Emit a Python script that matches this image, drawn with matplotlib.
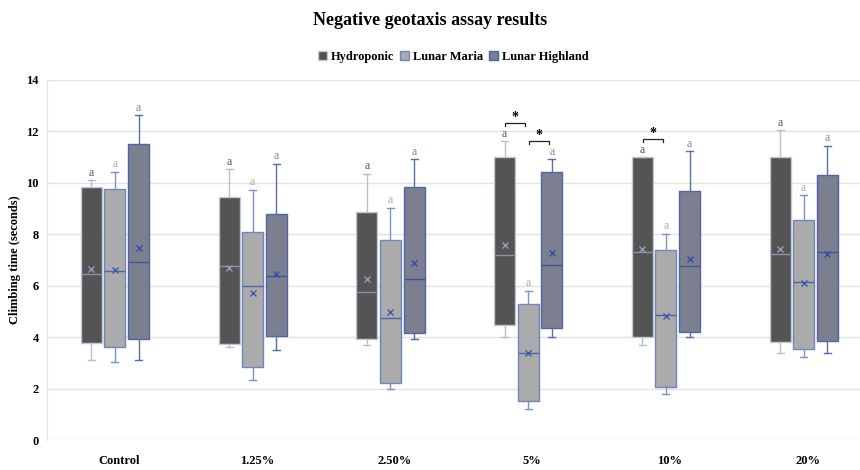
import numpy as np
import matplotlib
matplotlib.use("Agg")
import matplotlib.pyplot as plt
from matplotlib.patches import Patch

plt.rcParams['font.family'] = ['Liberation Serif', 'DejaVu Serif']

categories = ['Control', '1.25%', '2.50%', '5%', '10%', '20%']
series = ['Hydroponic', 'Lunar Maria', 'Lunar Highland']

# five-number summaries, plus the mean (x marker)
hydro_lo = [3.11, 3.62, 3.71, 4.02, 3.68, 3.40]
hydro_q1 = [3.79, 3.73, 3.93, 4.46, 4.02, 3.81]
hydro_med = [6.47, 6.77, 5.76, 7.19, 7.30, 7.22]
hydro_q3 = [9.82, 9.46, 8.88, 11.00, 11.00, 11.02]
hydro_hi = [10.10, 10.53, 10.35, 11.62, 11.00, 12.04]
hydro_mean = [6.65, 6.68, 6.25, 7.59, 7.42, 7.44]

maria_lo = [3.02, 2.32, 2.00, 1.21, 1.80, 3.22]
maria_q1 = [3.63, 2.84, 2.23, 1.50, 2.05, 3.53]
maria_med = [6.56, 5.97, 4.76, 3.37, 4.86, 6.16]
maria_q3 = [9.76, 8.08, 7.76, 5.28, 7.39, 8.56]
maria_hi = [10.44, 9.73, 9.04, 5.81, 8.02, 9.52]
maria_mean = [6.61, 5.71, 4.99, 3.37, 4.81, 6.11]

high_lo = [3.10, 3.51, 3.92, 4.02, 4.02, 3.40]
high_q1 = [3.94, 4.03, 4.15, 4.36, 4.21, 3.86]
high_med = [6.91, 6.37, 6.26, 6.80, 6.77, 7.33]
high_q3 = [11.52, 8.79, 9.82, 10.44, 9.69, 10.30]
high_hi = [12.63, 10.74, 10.92, 10.92, 11.22, 11.44]
high_mean = [7.48, 6.45, 6.87, 7.28, 7.05, 7.24]

letters = ['a'] * 6
# (category, series i, series j) with a significant difference
sig_pairs = [(3, 0, 1), (3, 1, 2), (4, 0, 1)]

all_stats = [
    (hydro_lo, hydro_q1, hydro_med, hydro_q3, hydro_hi, hydro_mean),
    (maria_lo, maria_q1, maria_med, maria_q3, maria_hi, maria_mean),
    (high_lo, high_q1, high_med, high_q3, high_hi, high_mean),
]

fills = ['#545454', '#ababab', '#7b7f90']
edges = ['#c3c7d6', '#6f86bd', '#5065a2']
whisk = ['#b9bed2', '#7d93c6', '#5a6fa8']
meds = ['#8d92a8', '#4a64a8', '#3f5597']
means = ['#959cbb', '#3c5aa5', '#34509e']
letter_cols = ['#555555', '#ababab', '#858585']
offsets = [-0.2, -0.03, 0.142]
width = 0.152

fig = plt.figure(figsize=(8.6, 4.7), dpi=100)
ax = fig.add_axes([0.0547, 0.0638, 0.945, 0.766])

x = np.arange(len(categories))
for k, (lo, q1, med, q3, hi, mn) in enumerate(all_stats):
    stats = [dict(whislo=lo[i], q1=q1[i], med=med[i], q3=q3[i], whishi=hi[i],
                  mean=mn[i], fliers=[]) for i in range(len(categories))]
    ax.bxp(stats, positions=x + offsets[k], widths=width, patch_artist=True,
           showmeans=True, capwidths=0.05,
           boxprops=dict(facecolor=fills[k], edgecolor=edges[k], linewidth=1.0),
           whiskerprops=dict(color=whisk[k], linewidth=1.0),
           capprops=dict(color=whisk[k], linewidth=1.0),
           medianprops=dict(color=meds[k], linewidth=1.0),
           meanprops=dict(marker='x', markeredgecolor=means[k], markersize=5,
                          markeredgewidth=1.0))
    for i in range(len(categories)):
        ax.text(x[i] + offsets[k], hi[i] + 0.06, letters[i], ha='center',
                va='bottom', fontsize=8.5, color=letter_cols[k])

for c, a, b in sig_pairs:
    top = max(all_stats[a][4][c], all_stats[b][4][c]) + 0.7
    xa = c + offsets[a] + 0.005
    xb = c + offsets[b] - 0.02
    ax.plot([xa, xa, xb, xb], [top - 0.12, top, top, top - 0.12],
            color='#222222', linewidth=0.9)
    ax.text((xa + xb) / 2, top - 0.05, '*', ha='center', va='bottom',
            fontsize=10, fontweight='bold')

ax.set_ylim(0, 14)
ax.set_yticks(np.arange(0, 15, 2))
ax.set_xlim(-0.522, 5.377)
ax.set_xticks(x)
ax.set_xticklabels(categories, fontweight='bold', fontsize=9)
ax.tick_params(axis='x', length=0, pad=11)
ax.tick_params(axis='y', length=0, pad=6, labelsize=9)
for lab in ax.get_yticklabels():
    lab.set_fontweight('bold')
ax.grid(axis='y', color='#e2e2e2', linewidth=1.0)
ax.set_axisbelow(True)
for s in ['top', 'right', 'bottom']:
    ax.spines[s].set_visible(False)
ax.spines['left'].set_color('#e2e2e2')
ax.set_ylabel('Climbing time (seconds)', fontweight='bold', fontsize=9, labelpad=4)

handles = [Patch(facecolor=fills[k], edgecolor=edges[k], label=series[k]) for k in range(3)]
fig.legend(handles=handles, loc='center', bbox_to_anchor=(0.527, 0.879), ncol=3,
           frameon=False, prop=dict(weight='bold', size=9), handlelength=0.7,
           handleheight=0.7, handletextpad=0.3, columnspacing=0.5)
fig.suptitle('Negative geotaxis assay results', x=0.5, y=0.957, va='center',
             fontweight='bold', fontsize=13)

fig.savefig('out.png', dpi=100)
